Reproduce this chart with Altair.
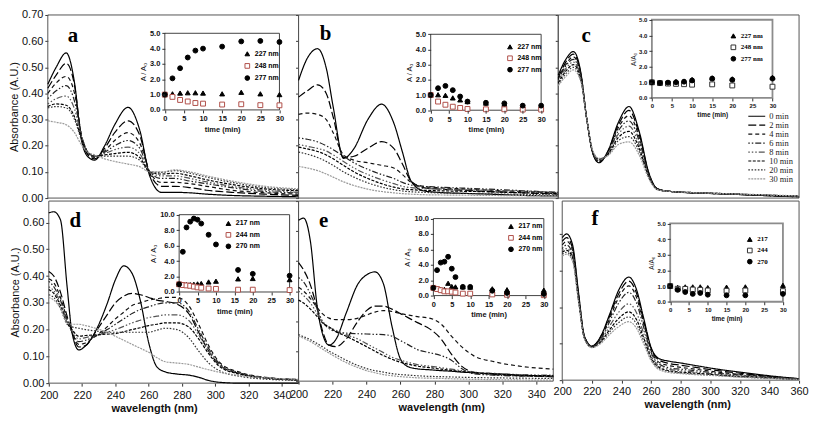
import altair as alt
import pandas as pd

# ---------------------------------------------------------------- data
TIMES = ["0 min", "2 min", "4 min", "6 min", "8 min", "10 min", "20 min", "30 min"]

WL_A = [200, 205, 211, 216, 220, 224, 228, 234, 240, 248, 255, 261, 268, 276, 285, 295, 310, 330, 350]
SPEC_A = [
    [0.435, 0.50, 0.555, 0.44, 0.226, 0.158, 0.145, 0.20, 0.28, 0.347, 0.26, 0.084, 0.022, 0.022, 0.02, 0.015, 0.01, 0.007, 0.005],
    [0.42, 0.47, 0.515, 0.43, 0.24, 0.165, 0.15, 0.19, 0.25, 0.295, 0.24, 0.095, 0.045, 0.045, 0.04, 0.03, 0.022, 0.015, 0.01],
    [0.40, 0.44, 0.465, 0.40, 0.245, 0.17, 0.155, 0.18, 0.22, 0.25, 0.21, 0.10, 0.06, 0.06, 0.055, 0.045, 0.03, 0.02, 0.015],
    [0.38, 0.41, 0.43, 0.37, 0.245, 0.175, 0.16, 0.175, 0.20, 0.22, 0.19, 0.10, 0.075, 0.075, 0.065, 0.055, 0.04, 0.025, 0.02],
    [0.36, 0.38, 0.39, 0.34, 0.24, 0.175, 0.16, 0.17, 0.185, 0.195, 0.17, 0.10, 0.085, 0.085, 0.075, 0.062, 0.045, 0.03, 0.022],
    [0.35, 0.36, 0.355, 0.31, 0.23, 0.175, 0.16, 0.165, 0.17, 0.175, 0.155, 0.10, 0.092, 0.095, 0.085, 0.07, 0.052, 0.035, 0.028],
    [0.345, 0.35, 0.345, 0.30, 0.225, 0.175, 0.16, 0.16, 0.16, 0.16, 0.145, 0.10, 0.098, 0.105, 0.095, 0.08, 0.06, 0.04, 0.032],
    [0.295, 0.29, 0.28, 0.25, 0.205, 0.175, 0.165, 0.15, 0.14, 0.13, 0.12, 0.10, 0.10, 0.108, 0.10, 0.085, 0.065, 0.045, 0.035],
]

WL_B = [200, 205, 211, 216, 220, 226, 232, 240, 248, 255, 260, 265, 272, 280, 295, 310, 330, 350]
SPEC_B = [
    [0.45, 0.534, 0.571, 0.497, 0.349, 0.152, 0.189, 0.30, 0.359, 0.287, 0.176, 0.065, 0.028, 0.022, 0.018, 0.015, 0.01, 0.008],
    [0.386, 0.41, 0.433, 0.40, 0.31, 0.155, 0.16, 0.19, 0.216, 0.19, 0.13, 0.065, 0.04, 0.035, 0.03, 0.025, 0.02, 0.015],
    [0.32, 0.325, 0.32, 0.30, 0.25, 0.165, 0.145, 0.135, 0.125, 0.115, 0.09, 0.06, 0.045, 0.04, 0.035, 0.03, 0.025, 0.02],
    [0.23, 0.225, 0.215, 0.20, 0.185, 0.16, 0.135, 0.11, 0.09, 0.075, 0.06, 0.05, 0.045, 0.042, 0.038, 0.034, 0.028, 0.022],
    [0.205, 0.198, 0.19, 0.18, 0.165, 0.14, 0.115, 0.09, 0.07, 0.055, 0.045, 0.04, 0.037, 0.035, 0.032, 0.03, 0.026, 0.022],
    [0.195, 0.188, 0.178, 0.165, 0.15, 0.125, 0.10, 0.075, 0.055, 0.042, 0.035, 0.032, 0.03, 0.028, 0.026, 0.024, 0.02, 0.018],
    [0.176, 0.168, 0.155, 0.14, 0.125, 0.10, 0.08, 0.058, 0.042, 0.032, 0.027, 0.024, 0.022, 0.02, 0.018, 0.016, 0.014, 0.012],
    [0.121, 0.115, 0.105, 0.092, 0.08, 0.062, 0.048, 0.034, 0.025, 0.02, 0.017, 0.015, 0.013, 0.012, 0.011, 0.01, 0.009, 0.008],
]

WL_C = [200, 205, 210, 215, 219, 223, 227, 233, 240, 247, 254, 260, 266, 275, 290, 310, 335, 360]
SPEC_C = [
    [0.47, 0.53, 0.56, 0.48, 0.30, 0.17, 0.135, 0.18, 0.29, 0.35, 0.25, 0.10, 0.035, 0.025, 0.02, 0.016, 0.01, 0.005],
    [0.46, 0.52, 0.55, 0.475, 0.30, 0.17, 0.137, 0.178, 0.28, 0.335, 0.24, 0.097, 0.035, 0.025, 0.02, 0.016, 0.01, 0.005],
    [0.455, 0.51, 0.54, 0.47, 0.30, 0.172, 0.14, 0.175, 0.27, 0.315, 0.228, 0.094, 0.034, 0.025, 0.02, 0.016, 0.011, 0.006],
    [0.45, 0.505, 0.53, 0.465, 0.30, 0.173, 0.142, 0.172, 0.258, 0.295, 0.215, 0.09, 0.034, 0.025, 0.02, 0.016, 0.011, 0.006],
    [0.445, 0.495, 0.52, 0.46, 0.30, 0.175, 0.145, 0.17, 0.245, 0.275, 0.20, 0.087, 0.033, 0.025, 0.021, 0.017, 0.012, 0.007],
    [0.44, 0.485, 0.51, 0.455, 0.30, 0.177, 0.148, 0.168, 0.232, 0.255, 0.187, 0.083, 0.033, 0.025, 0.021, 0.017, 0.012, 0.007],
    [0.435, 0.475, 0.50, 0.45, 0.30, 0.178, 0.15, 0.165, 0.22, 0.235, 0.175, 0.08, 0.032, 0.025, 0.021, 0.017, 0.012, 0.007],
    [0.43, 0.465, 0.49, 0.445, 0.30, 0.18, 0.152, 0.162, 0.205, 0.215, 0.162, 0.076, 0.032, 0.025, 0.021, 0.017, 0.013, 0.008],
]

WL_D = [200, 203, 207, 211, 214, 218, 222, 228, 235, 240, 245, 250, 255, 260, 265, 270, 277, 284, 290, 296, 303, 315, 330, 350]
SPEC_D = [
    [0.636, 0.64, 0.61, 0.36, 0.187, 0.124, 0.139, 0.193, 0.296, 0.386, 0.438, 0.41, 0.308, 0.151, 0.06, 0.042, 0.034, 0.03, 0.022, 0.01, 0.003, 0.0, 0.0, 0.0],
    [0.417, 0.40, 0.34, 0.25, 0.19, 0.135, 0.14, 0.19, 0.255, 0.30, 0.325, 0.335, 0.33, 0.32, 0.31, 0.305, 0.295, 0.26, 0.19, 0.12, 0.065, 0.035, 0.02, 0.012],
    [0.39, 0.375, 0.32, 0.24, 0.19, 0.145, 0.15, 0.175, 0.21, 0.24, 0.265, 0.29, 0.30, 0.31, 0.315, 0.32, 0.32, 0.29, 0.22, 0.14, 0.075, 0.04, 0.022, 0.014],
    [0.38, 0.36, 0.31, 0.235, 0.19, 0.155, 0.16, 0.175, 0.20, 0.22, 0.24, 0.26, 0.275, 0.285, 0.295, 0.30, 0.30, 0.27, 0.20, 0.13, 0.07, 0.038, 0.021, 0.013],
    [0.36, 0.345, 0.30, 0.23, 0.195, 0.165, 0.17, 0.178, 0.19, 0.20, 0.212, 0.225, 0.235, 0.245, 0.25, 0.255, 0.255, 0.235, 0.18, 0.12, 0.065, 0.035, 0.02, 0.012],
    [0.35, 0.335, 0.29, 0.225, 0.20, 0.175, 0.178, 0.18, 0.183, 0.185, 0.192, 0.20, 0.207, 0.215, 0.22, 0.225, 0.225, 0.21, 0.165, 0.11, 0.06, 0.033, 0.019, 0.012],
    [0.33, 0.32, 0.28, 0.22, 0.21, 0.205, 0.20, 0.195, 0.19, 0.19, 0.19, 0.19, 0.19, 0.19, 0.198, 0.205, 0.20, 0.17, 0.12, 0.075, 0.045, 0.025, 0.015, 0.01],
    [0.32, 0.31, 0.28, 0.225, 0.22, 0.22, 0.215, 0.205, 0.19, 0.175, 0.16, 0.145, 0.13, 0.115, 0.095, 0.08, 0.075, 0.07, 0.06, 0.05, 0.04, 0.028, 0.02, 0.014],
]

WL_E = [200, 203, 207, 211, 214, 218, 222, 228, 235, 240, 245, 250, 255, 260, 265, 270, 277, 284, 290, 296, 303, 315, 330, 350]
SPEC_E = [
    [0.536, 0.543, 0.465, 0.248, 0.16, 0.12, 0.139, 0.226, 0.324, 0.354, 0.364, 0.324, 0.183, 0.074, 0.047, 0.041, 0.038, 0.035, 0.033, 0.03, 0.028, 0.025, 0.02, 0.017],
    [0.395, 0.37, 0.32, 0.24, 0.17, 0.12, 0.115, 0.14, 0.20, 0.235, 0.25, 0.25, 0.24, 0.225, 0.21, 0.195, 0.175, 0.14, 0.09, 0.05, 0.03, 0.022, 0.018, 0.015],
    [0.313, 0.30, 0.275, 0.245, 0.225, 0.21, 0.205, 0.205, 0.21, 0.22, 0.23, 0.235, 0.232, 0.225, 0.22, 0.215, 0.21, 0.19, 0.15, 0.115, 0.085, 0.065, 0.05, 0.04],
    [0.345, 0.33, 0.29, 0.24, 0.20, 0.175, 0.165, 0.16, 0.158, 0.157, 0.156, 0.155, 0.15, 0.135, 0.12, 0.105, 0.095, 0.085, 0.07, 0.042, 0.025, 0.02, 0.017, 0.015],
    [0.30, 0.285, 0.26, 0.225, 0.20, 0.18, 0.17, 0.155, 0.14, 0.125, 0.11, 0.095, 0.08, 0.07, 0.062, 0.055, 0.05, 0.045, 0.04, 0.035, 0.03, 0.026, 0.022, 0.02],
    [0.27, 0.26, 0.24, 0.215, 0.195, 0.18, 0.165, 0.15, 0.13, 0.115, 0.10, 0.085, 0.073, 0.063, 0.056, 0.05, 0.045, 0.04, 0.036, 0.032, 0.028, 0.024, 0.02, 0.018],
    [0.155, 0.148, 0.138, 0.125, 0.115, 0.10, 0.088, 0.07, 0.052, 0.042, 0.035, 0.03, 0.025, 0.022, 0.02, 0.018, 0.016, 0.015, 0.014, 0.013, 0.012, 0.011, 0.01, 0.009],
    [0.15, 0.143, 0.132, 0.118, 0.107, 0.093, 0.08, 0.062, 0.045, 0.035, 0.028, 0.022, 0.018, 0.015, 0.013, 0.011, 0.01, 0.009, 0.008, 0.007, 0.006, 0.005, 0.004, 0.003],
]

WL_F = [200, 203, 207, 211, 215, 220, 226, 232, 238, 245, 250, 255, 260, 265, 272, 280, 290, 305, 320, 340, 360]
SPEC_F = [
    [0.39, 0.40, 0.37, 0.24, 0.12, 0.093, 0.12, 0.18, 0.245, 0.282, 0.25, 0.17, 0.09, 0.06, 0.052, 0.047, 0.04, 0.03, 0.022, 0.012, 0.004],
    [0.38, 0.39, 0.36, 0.235, 0.12, 0.093, 0.118, 0.175, 0.235, 0.271, 0.24, 0.163, 0.087, 0.056, 0.046, 0.041, 0.035, 0.026, 0.019, 0.01, 0.004],
    [0.37, 0.38, 0.355, 0.23, 0.118, 0.092, 0.115, 0.168, 0.225, 0.258, 0.228, 0.155, 0.082, 0.05, 0.04, 0.035, 0.03, 0.022, 0.016, 0.009, 0.003],
    [0.36, 0.37, 0.345, 0.225, 0.117, 0.092, 0.112, 0.16, 0.21, 0.24, 0.213, 0.145, 0.076, 0.045, 0.034, 0.03, 0.026, 0.019, 0.014, 0.008, 0.003],
    [0.355, 0.36, 0.34, 0.222, 0.116, 0.091, 0.108, 0.148, 0.185, 0.209, 0.186, 0.128, 0.068, 0.04, 0.03, 0.026, 0.022, 0.016, 0.012, 0.007, 0.003],
    [0.35, 0.355, 0.335, 0.22, 0.115, 0.09, 0.105, 0.138, 0.168, 0.187, 0.167, 0.116, 0.062, 0.036, 0.026, 0.022, 0.019, 0.014, 0.01, 0.006, 0.002],
    [0.345, 0.35, 0.33, 0.218, 0.114, 0.09, 0.103, 0.132, 0.157, 0.173, 0.155, 0.108, 0.058, 0.033, 0.024, 0.02, 0.017, 0.013, 0.009, 0.005, 0.002],
    [0.34, 0.345, 0.325, 0.215, 0.113, 0.089, 0.10, 0.125, 0.146, 0.16, 0.143, 0.10, 0.054, 0.03, 0.021, 0.018, 0.015, 0.012, 0.008, 0.005, 0.002],
]

# inset data (A/A0 vs time)
LAB_ABC = ["227 nm", "248 nm", "277 nm"]
LAB_DE = ["217 nm", "244 nm", "270 nm"]
LAB_F = ["217", "244", "270"]

T_A = [0, 2, 4, 6, 8, 10, 15, 20, 25, 30]
IA_1 = [1.0, 1.05, 1.1, 1.12, 1.12, 1.1, 1.05, 1.15, 1.05, 1.0]
IA_2 = [1.0, 0.85, 0.65, 0.55, 0.45, 0.41, 0.35, 0.37, 0.31, 0.3]
IA_3 = [1.0, 2.06, 2.72, 3.42, 3.87, 4.0, 4.13, 4.47, 4.5, 4.43]

T_B = [0, 2, 4, 6, 8, 10, 15, 20, 25, 30]
IB_1 = [1.0, 1.02, 0.98, 0.81, 0.68, 0.57, 0.47, 0.4, 0.3, 0.28]
IB_2 = [1.0, 0.57, 0.36, 0.23, 0.15, 0.08, 0.06, 0.06, 0.04, 0.04]
IB_3 = [1.0, 1.45, 1.6, 1.32, 0.9, 0.57, 0.49, 0.45, 0.3, 0.3]

T_C = [0, 2, 4, 6, 8, 10, 15, 20, 30]
IC_1 = [1.0, 0.98, 1.0, 1.05, 1.08, 1.18, 1.28, 1.22, 1.32]
IC_2 = [1.0, 0.95, 0.92, 0.9, 0.88, 0.85, 0.87, 0.8, 0.72]
IC_3 = [1.0, 0.96, 0.98, 1.0, 1.04, 1.12, 1.24, 1.16, 1.24]

T_D = [0, 1, 2, 3, 4, 5, 6, 8, 10, 16, 20, 30]
ID_1 = [1.0, 1.0, 0.95, 0.95, 1.0, 1.05, 1.1, 1.3, 1.4, 1.7, 1.75, 1.6]
ID_2 = [1.0, 0.9, 0.85, 0.8, 0.7, 0.6, 0.55, 0.45, 0.4, 0.3, 0.3, 0.25]
ID_3 = [1.0, 5.2, 8.35, 9.1, 9.5, 9.35, 8.85, 7.4, 6.15, 2.85, 2.35, 2.1]

T_E = [0, 1, 2, 3, 4, 5, 6, 8, 10, 16, 20, 30]
IE_1 = [1.0, 0.9, 0.8, 0.8, 1.6, 1.18, 1.13, 1.13, 1.1, 0.88, 0.76, 0.71]
IE_2 = [1.0, 0.85, 0.7, 0.55, 0.55, 0.5, 0.4, 0.25, 0.25, 0.15, 0.1, 0.05]
IE_3 = [1.0, 3.3, 4.28, 4.4, 5.04, 3.49, 2.4, 1.13, 1.13, 0.63, 0.34, 0.21]

T_F = [0, 2, 4, 6, 8, 10, 15, 20, 30]
IF_1 = [1.0, 0.92, 0.95, 0.95, 0.95, 0.9, 0.93, 0.95, 1.05]
IF_2 = [1.0, 0.83, 0.82, 0.78, 0.76, 0.72, 0.7, 0.72, 0.68]
IF_3 = [1.0, 0.76, 0.62, 0.5, 0.56, 0.45, 0.41, 0.41, 0.5]

LETTERS = ["a", "b", "c", "d", "e", "f"]
LETTER_X = [215.0, 215.6, 218.6, 216.0, 214.8, 222.2]
LETTER_Y = [0.62, 0.626, 0.62, 0.607, 0.535, 0.442]

# ---------------------------------------------------------------- style
DASHES = [[1, 0], [8, 3], [4, 3], [1.5, 2, 1.5, 2, 6, 2], [1.5, 2, 1.5, 2, 1.5, 2, 6, 2],
          [3, 1.5], [1.6, 1.6], [2, 1]]
COLORS = ["#000000", "#000000", "#111111", "#222222", "#555555", "#000000", "#333333", "#9a9a9a"]
SHAPES = ["triangle-up", "square", "circle"]
SANS = "Liberation Sans"
SERIF = "Liberation Serif"
W, H = 793, 376

PANELS = [
    dict(wl=WL_A, spec=SPEC_A, xdom=[200, 350], xr=[38, 290], ydom=[0, 0.7], yr=[190, 6],
         yvals=[0, 0.1, 0.2, 0.3, 0.4, 0.5, 0.6, 0.7], ylab=True, xvals=None,
         it=T_A, iv=[IA_1, IA_2, IA_3], lab=LAB_ABC, iymax=5, ixr=[155.6, 270.8], iyr=[101.4, 24.4],
         sq="#b0504a", ifr="#444444", ifw=1, small=False, lx=235, ly=41.5, lrow=3.2),
    dict(wl=WL_B, spec=SPEC_B, xdom=[200, 350], xr=[290, 551], ydom=[0, 0.7], yr=[190, 6],
         yvals=[0, 0.1, 0.2, 0.3, 0.4, 0.5, 0.6, 0.7], ylab=False, xvals=None,
         it=T_B, iv=[IB_1, IB_2, IB_3], lab=LAB_ABC, iymax=5, ixr=[422.8, 533.8], iyr=[101.7, 25.4],
         sq="#b0504a", ifr="#444444", ifw=1, small=False, lx=499, ly=34.5, lrow=2.5),
    dict(wl=WL_C, spec=SPEC_C, xdom=[200, 360], xr=[551, 793], ydom=[0, 0.7], yr=[190, 6],
         yvals=[0, 0.1, 0.2, 0.3, 0.4, 0.5, 0.6, 0.7], ylab=False, xvals=None,
         it=T_C, iv=[IC_1, IC_2, IC_3], lab=LAB_ABC, iymax=5, ixr=[645.1, 766.3], iyr=[89.4, 10.8],
         sq="#333333", ifr="#8c8c8c", ifw=1.8, small=True, lx=723.5, ly=23.5, lrow=2.5),
    dict(wl=WL_D, spec=SPEC_D, xdom=[200, 350], xr=[39, 290], ydom=[0, 0.68], yr=[376, 193],
         yvals=[0, 0.1, 0.2, 0.3, 0.4, 0.5, 0.6], ylab=True, xvals=[200, 220, 240, 260, 280, 300, 320, 340],
         xtitle=144.8, xty=26, xtick=3, xpad=3,
         it=T_D, iv=[ID_1, ID_2, ID_3], lab=LAB_DE, iymax=10, ixr=[170.0, 281.0], iyr=[284.4, 206.7],
         sq="#b0504a", ifr="#444444", ifw=1, small=False, lx=216, ly=212, lrow=2.5),
    dict(wl=WL_E, spec=SPEC_E, xdom=[200, 350], xr=[290, 546], ydom=[0, 0.6], yr=[374, 193],
         yvals=[0, 0.1, 0.2, 0.3, 0.4, 0.5, 0.6], ylab=False, xvals=[200, 220, 240, 260, 280, 300, 320, 340],
         xtitle=433.4, xty=26, xtick=3, xpad=4,
         it=T_E, iv=[IE_1, IE_2, IE_3], lab=LAB_DE, iymax=10, ixr=[425.5, 536.5], iyr=[288.0, 210.6],
         sq="#b0504a", ifr="#444444", ifw=1, small=False, lx=500, ly=215, lrow=2.5),
    dict(wl=WL_F, spec=SPEC_F, xdom=[200, 360], xr=[555, 793], ydom=[0, 0.49], yr=[373, 193],
         yvals=[0, 0.1, 0.2, 0.3, 0.4], ylab=False, xvals=[200, 220, 240, 260, 280, 300, 320, 340, 360],
         xtitle=680.6, xty=24, xtick=3, xpad=2,
         it=T_F, iv=[IF_1, IF_2, IF_3], lab=LAB_F, iymax=5, ixr=[663.5, 776.8], iyr=[294.2, 215.5],
         sq="#333333", ifr="#8c8c8c", ifw=1.8, small=True, lx=740, ly=228, lrow=2.2),
]


def sc(dom, rng):
    return alt.Scale(domain=dom, range=rng, nice=False, zero=False)


def frame(xdom, xr, ydom, yr, stroke, sw, fill=None):
    df = pd.DataFrame({"x0": [xdom[0]], "x1": [xdom[1]], "y0": [ydom[0]], "y1": [ydom[1]]})
    if fill:
        m = alt.Chart(df).mark_rect(fill=fill, stroke=stroke, strokeWidth=sw)
    else:
        m = alt.Chart(df).mark_rect(filled=False, stroke=stroke, strokeWidth=sw)
    return m.encode(
        x=alt.X("x0:Q", scale=sc(xdom, xr), axis=None),
        x2=alt.X2("x1"),
        y=alt.Y("y0:Q", scale=sc(ydom, yr), axis=None),
        y2=alt.Y2("y1"),
    )


TIME_LEGEND = alt.Legend(
    orient="none", legendX=741, legendY=103.5, title=None, padding=0, rowPadding=0,
    clipHeight=8.5, symbolType="stroke", symbolSize=289, symbolStrokeWidth=1.2, labelFont=SERIF,
    labelFontSize=8.5, labelColor="#222222", labelOffset=3,
)


def lines(p):
    rows = []
    for t, vals in zip(TIMES, p["spec"]):
        for w, v in zip(p["wl"], vals):
            rows.append({"wl": w, "A": v, "time": t})
    df = pd.DataFrame(rows)
    if p["xvals"] is None:
        xaxis = None
    else:
        xaxis = alt.Axis(
            orient="bottom", offset=p["yr"][0] - H, values=p["xvals"], format="d",
            title="wavelength (nm)", titleX=p["xtitle"], titleY=p["xty"], titleBaseline="middle",
            titleAlign="center", titleFontSize=11, titleFontWeight="bold",
            labelFontSize=11, tickSize=p["xtick"], labelPadding=p["xpad"],
            labelFlush=False, labelOverlap=False, domain=False,
        )
    if p["ylab"]:
        yaxis = alt.Axis(
            orient="left", offset=-p["xr"][0], values=p["yvals"], format=".2f",
            title="Absorbance (A.U.)", titleFontSize=11, titleFontWeight="normal", titlePadding=2,
            labelFontSize=11, tickSize=3, labelPadding=2, labelOverlap=False, domain=False,
        )
    else:
        yaxis = alt.Axis(
            orient="left", offset=-p["xr"][0], values=p["yvals"], labels=False, title=None,
            tickSize=3, domain=False,
        )
    return alt.Chart(df).mark_line(strokeWidth=1.2, interpolate="monotone").encode(
        x=alt.X("wl:Q", scale=sc(p["xdom"], p["xr"]), axis=xaxis),
        y=alt.Y("A:Q", scale=sc(p["ydom"], p["yr"]), axis=yaxis),
        color=alt.Color("time:N", scale=alt.Scale(domain=TIMES, range=COLORS), legend=TIME_LEGEND),
        strokeDash=alt.StrokeDash("time:N", scale=alt.Scale(domain=TIMES, range=DASHES), legend=TIME_LEGEND),
    )


def inset(p):
    rows = []
    for lab, vals in zip(p["lab"], p["iv"]):
        for t, v in zip(p["it"], vals):
            rows.append({"t": t, "r": v, "series": lab})
    df = pd.DataFrame(rows)
    small = p["small"]
    lfs = 6 if small else 7.5
    tfs = 6.5 if small else 7.5
    yv = [0, 2, 4, 6, 8, 10] if p["iymax"] == 10 else [0, 1, 2, 3, 4, 5]
    ytitle = "A/A₀" if small else "A / A₀"
    xaxis = alt.Axis(
        orient="bottom", offset=p["iyr"][0] - H, values=[0, 5, 10, 15, 20, 25, 30], format="d",
        title="time (min)", titleFontSize=tfs, titleFontWeight="bold", titlePadding=3,
        labelFontSize=lfs, labelFontWeight="bold", tickSize=3, labelPadding=2,
        labelFlush=False, labelOverlap=False, domain=False, zindex=1,
    )
    yaxis = alt.Axis(
        orient="left", offset=-p["ixr"][0], values=yv, format=".1f",
        title=ytitle, titleFontSize=tfs, titleFontWeight="normal", titlePadding=2,
        labelFontSize=lfs, labelFontWeight="bold", tickSize=3, labelPadding=2,
        labelOverlap=False, domain=False, zindex=1,
    )
    leg = alt.Legend(
        orient="none", legendX=p["lx"], legendY=p["ly"], title=None, padding=0,
        rowPadding=p["lrow"], labelFontSize=7, labelFont=SERIF if small else SANS,
        labelFontWeight="bold", labelColor="#000000", symbolSize=22, symbolStrokeWidth=1,
        labelOffset=4,
    )
    fills = ["#000000", "#ffffff", "#000000"]
    strokes = ["#000000", p["sq"], "#000000"]
    return alt.Chart(df).mark_point(size=24, opacity=1, strokeWidth=1).encode(
        x=alt.X("t:Q", scale=sc([0, 30], p["ixr"]), axis=xaxis),
        y=alt.Y("r:Q", scale=sc([0, p["iymax"]], p["iyr"]), axis=yaxis),
        shape=alt.Shape("series:N", scale=alt.Scale(domain=p["lab"], range=SHAPES), legend=leg),
        fill=alt.Fill("series:N", scale=alt.Scale(domain=p["lab"], range=fills), legend=leg),
        stroke=alt.Stroke("series:N", scale=alt.Scale(domain=p["lab"], range=strokes), legend=leg),
    )


def letter(p, i):
    df = pd.DataFrame({"x": [LETTER_X[i]], "y": [LETTER_Y[i]], "t": [LETTERS[i]]})
    return alt.Chart(df).mark_text(
        font=SERIF, fontWeight="bold", fontSize=21, align="center", baseline="middle", color="#000000"
    ).encode(
        x=alt.X("x:Q", scale=sc(p["xdom"], p["xr"]), axis=None),
        y=alt.Y("y:Q", scale=sc(p["ydom"], p["yr"]), axis=None),
        text="t:N",
    )


layers = []
for i, p in enumerate(PANELS):
    layers.append(frame(p["xdom"], p["xr"], p["ydom"], p["yr"], "#555555", 1))
    layers.append(lines(p))
    layers.append(frame([0, 30], p["ixr"], [0, p["iymax"]], p["iyr"], p["ifr"], p["ifw"], fill="#ffffff"))
    layers.append(inset(p))
    layers.append(letter(p, i))

chart = (
    alt.layer(*layers)
    .resolve_scale(x="independent", y="independent", shape="independent",
                   fill="independent", stroke="independent")
    .resolve_axis(x="independent", y="independent")
    .resolve_legend(shape="independent", fill="independent", stroke="independent")
    .properties(width=W, height=H, padding=0, background="#ffffff")
    .configure_view(strokeWidth=0)
    .configure_axis(grid=False, labelFont=SANS, titleFont=SANS, labelColor="#111111",
                    titleColor="#111111", tickColor="#333333")
)

chart.save("out.html", embed_options={"renderer": "svg", "actions": False})
